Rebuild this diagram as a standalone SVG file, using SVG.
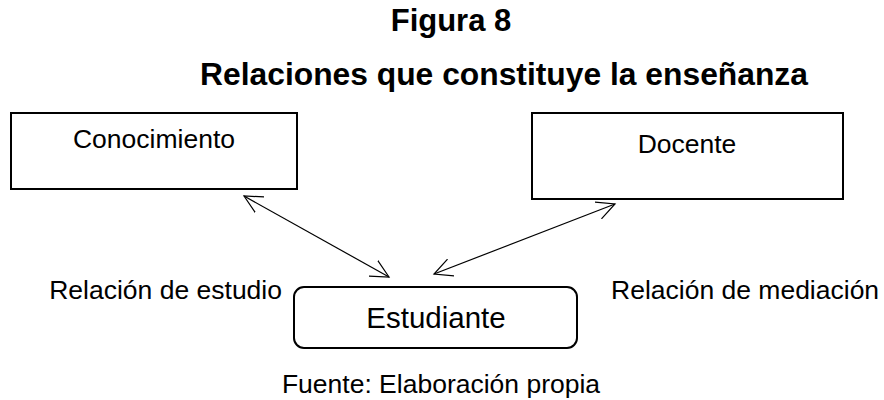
<svg xmlns="http://www.w3.org/2000/svg" width="884" height="400" viewBox="0 0 884 400">
<style>
text{font-family:"Liberation Sans",Arial,sans-serif;fill:#000}
.t{font-weight:bold;font-size:31px;text-anchor:middle}
.n{font-size:26.5px}
.c{text-anchor:middle}
.box{fill:#fff;stroke:#000;stroke-width:2}
.con{stroke:#000;stroke-width:1.2;fill:none;marker-start:url(#ah);marker-end:url(#ah)}
</style>
<defs>
<marker id="ah" viewBox="0 -10 20 20" refX="18" refY="0" markerWidth="20" markerHeight="20" markerUnits="userSpaceOnUse" orient="auto-start-reverse">
<path d="M0,-9 L18,0 L0,9" fill="none" stroke="#000" stroke-width="1.2"/>
</marker>
</defs>
<rect width="884" height="400" fill="#fff"/>
<text class="t" x="451" y="31">Figura 8</text>
<text class="t" x="504" y="85" style="font-size:31.8px">Relaciones que constituye la enseñanza</text>
<g id="conocimiento">
<rect class="box" x="11" y="113" width="286" height="76"/>
<text class="n c" x="154" y="148">Conocimiento</text>
</g>
<g id="docente">
<rect class="box" x="532" y="113" width="311" height="86"/>
<text class="n c" x="687" y="153">Docente</text>
</g>
<g id="estudiante">
<rect class="box" x="294" y="287" width="283" height="61" rx="10" ry="10"/>
<text class="c" x="436" y="328" style="font-size:29.5px">Estudiante</text>
</g>
<g id="connectors">
<line class="con" x1="244" y1="196" x2="389" y2="277"/>
<line class="con" x1="615" y1="204" x2="434" y2="274"/>
</g>
<text class="n" x="282" y="299" text-anchor="end">Relación de estudio</text>
<text class="n" x="611" y="299">Relación de mediación</text>
<text class="n c" x="441" y="393">Fuente: Elaboración propia</text>
</svg>
